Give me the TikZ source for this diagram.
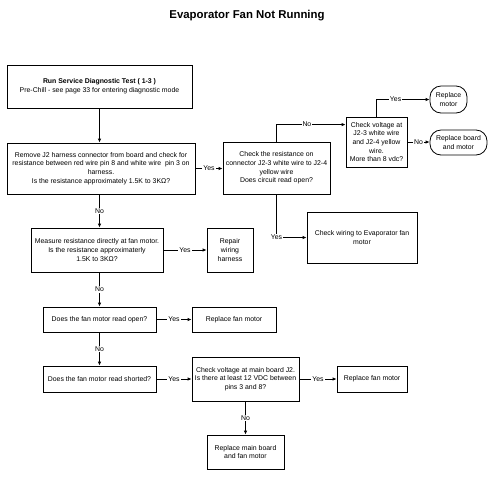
\documentclass[tikz,border=0pt]{standalone}
\usepackage{fontspec}
\setmainfont{Liberation Sans}
\usetikzlibrary{arrows.meta}

\tikzset{
  box/.style={draw, line width=0.8pt, align=center, inner sep=0.5pt, font=\fontsize{6.9}{8.6}\selectfont},
  term/.style={box, rounded corners=11pt},
  arr/.style={-{Latex[length=4pt,width=3.5pt]}, line width=0.8pt},
  lbl/.style={fill=white, inner sep=1pt, font=\fontsize{6.9}{8}\selectfont}
}

\begin{document}
\begin{tikzpicture}[x=1pt, y=-1pt]
  \useasboundingbox (0,0) rectangle (494,480);
  \node[font=\bfseries\fontsize{11.4}{13}\selectfont] (title) at (247,16) {Evaporator Fan Not Running};

  \node[box, minimum width=185pt, minimum height=43pt] (run) at (99.5,86.5)
    {\textbf{Run Service Diagnostic Test ( 1-3 )}\\Pre-Chill - see page 33 for entering diagnostic mode};
  \node[box, minimum width=188pt, minimum height=51pt] (remove) at (101,168.5)
    {Remove J2 harness connector from board and check for\\resistance between red wire pin 8 and white wire\ \ pin 3 on\\harness.\\Is the resistance approximately 1.5K to 3KΩ?};
  \node[box, minimum width=107pt, minimum height=52pt] (chkres) at (276.5,168)
    {Check the resistance on\\connector J2-3 white wire to J2-4\\yellow wire\\Does circuit read open?};
  \node[box, minimum width=61pt, minimum height=50pt] (chkvolt) at (376.5,142)
    {Check voltage at\\J2-3 white wire\\and J2-4 yellow\\wire.\\More than 8 vdc?};
  \node[term, minimum width=37pt, minimum height=27pt] (repmotor) at (448.5,99.5) {Replace\\motor};
  \node[term, minimum width=57pt, minimum height=25pt] (repboard) at (458.5,142.5) {Replace board\\and motor};
  \node[box, minimum width=110pt, minimum height=51pt] (wiring) at (362,237.5)
    {Check wiring to Evaporator fan\\motor};

  \node[box, minimum width=132pt, minimum height=44pt] (measure) at (97,250)
    {Measure resistance directly at fan motor.\\Is the resistance approximaterly\\1.5K to 3KΩ?};
  \node[box, minimum width=46pt, minimum height=44pt] (repair) at (230,250) {Repair\\wiring\\harness};
  \node[box, minimum width=113pt, minimum height=25pt] (open) at (99.5,319.5) {Does the fan motor read open?};
  \node[box, minimum width=84pt, minimum height=25pt] (repfan) at (234,319.5) {Replace fan motor};
  \node[box, minimum width=113pt, minimum height=26pt] (shorted) at (99.5,379) {Does the fan motor read shorted?};
  \node[box, minimum width=107pt, minimum height=44pt] (chkmain) at (245.5,379)
    {Check voltage at main board J2.\\Is there at least 12 VDC between\\pins 3 and 8?};
  \node[box, minimum width=70pt, minimum height=26pt] (repfantwo) at (372,379) {Replace fan motor};
  \node[box, minimum width=77pt, minimum height=34pt] (repmain) at (245.5,452) {Replace main board\\and fan motor};

  \draw[arr] (run.south) -- (run.south |- remove.north);
  \draw[arr] (remove.east) -- (remove.east -| chkres.west) node[lbl, midway] {Yes};
  \draw[arr] (chkres.north) |- ([yshift=-8pt]chkvolt.north west) node[lbl, pos=0.72] {No};
  \draw[arr] (chkvolt.north) |- (repmotor.west) node[lbl, pos=0.68] {Yes};
  \draw[arr] (chkvolt.east) -- (chkvolt.east -| repboard.west) node[lbl, midway] {No};
  \draw[arr] (chkres.south) |- (wiring.west) node[lbl, pos=0.5] {Yes};

  \draw[arr] (run.south |- remove.south) -- (run.south |- measure.north) node[lbl, midway] {No};
  \draw[arr] (measure.east) -- (repair.west) node[lbl, midway] {Yes};
  \draw[arr] (run.south |- measure.south) -- (run.south |- open.north) node[lbl, midway] {No};
  \draw[arr] (open.east) -- (repfan.west) node[lbl, midway] {Yes};
  \draw[arr] (run.south |- open.south) -- (run.south |- shorted.north) node[lbl, midway] {No};
  \draw[arr] (shorted.east) -- (shorted.east -| chkmain.west) node[lbl, midway] {Yes};
  \draw[arr] (chkmain.east) -- (chkmain.east -| repfantwo.west) node[lbl, midway] {Yes};
  \draw[arr] (chkmain.south) -- (repmain.north) node[lbl, midway] {No};
\end{tikzpicture}
\end{document}
